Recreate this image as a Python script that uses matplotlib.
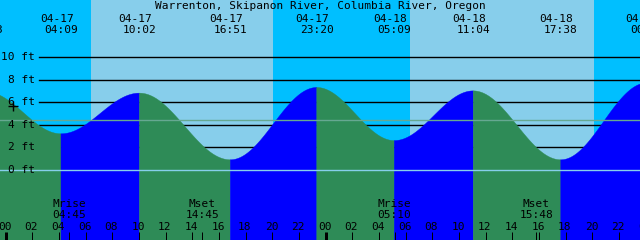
import numpy as np
import matplotlib.pyplot as plt
import matplotlib.transforms as mtransforms

plt.rcParams['font.family'] = ['DejaVu Sans Mono', 'DejaVu Sans']

title = 'Warrenton, Skipanon River, Columbia River, Oregon'

# tide highs and lows, hours counted from 04-17 00:00, heights in ft
tide_hours = [-1.45, 4.15, 10.033, 16.85, 23.333, 29.15, 35.067, 41.633, 48.083]
tide_heights = [6.9, 3.2, 6.8, 0.9, 7.3, 2.6, 7.0, 0.9, 7.7]
tide_dates = ['04-16', '04-17', '04-17', '04-17', '04-17', '04-18', '04-18', '04-18', '04-19']
tide_times = ['22:33', '04:09', '10:02', '16:51', '23:20', '05:09', '11:04', '17:38', '00:05']

# daylight
sunrise = [6.4, 30.33]
sunset = [20.05, 44.12]

# moon
moon_hours = [4.75, 14.75, 29.167, 39.8]
moon_names = ['Mrise', 'Mset', 'Mrise', 'Mset']
moon_times = ['04:45', '14:45', '05:10', '15:48']

grid_ft = [10, 8, 6, 4, 2]
label_ft = [10, 8, 6, 4, 2, 0]
mean_level = 4.4
now_hour, now_ft = 0.55, 5.66

hour_ticks = list(range(0, 49, 2))

W, H = 640, 240
px_h = 13.333   # pixels per hour
px_ft = 11.3    # pixels per foot
x0, y0 = 5.7, 170  # pixel position of 04-17 00:00 and 0 ft

fig = plt.figure(figsize=(6.4, 2.4), dpi=100)
ax = fig.add_axes([0, 0, 1, 1])
ax.set_xlim(-x0 / px_h, (W - x0) / px_h)
ax.set_ylim(-(H - y0) / px_ft, y0 / px_ft)
ax.axis('off')

# night / day background
ax.axvspan(-5, 60, color='#00BFFF', lw=0, zorder=0)
for a, b in zip(sunrise, sunset):
    ax.axvspan(a, b, color='#87CEEB', lw=0, zorder=0)

# grid lines behind the water
for f in grid_ft:
    ax.axhline(f, xmin=39 / W, xmax=1, color='black', lw=1, zorder=1)

# tide fill, cosine shape between extremes
for i in range(len(tide_hours) - 1):
    ha, hb = tide_hours[i], tide_hours[i + 1]
    va, vb = tide_heights[i], tide_heights[i + 1]
    t = np.linspace(0, 1, 80)
    hh = ha + t * (hb - ha)
    yy = va + (vb - va) * (1 - np.cos(np.pi * t)) / 2
    col = '#2E8B57' if vb < va else '#0000FF'
    ax.fill_between(hh, yy, -20, color=col, lw=0.3, ec=col, zorder=2)

ax.axhline(0, color='#87CEEB', lw=1, zorder=3)
ax.axhline(mean_level, color='#66a891', lw=1, zorder=3)
ax.plot(now_hour, now_ft, marker='+', ms=7, mew=1, color='black', zorder=4)

# y labels
for f in label_ft:
    ax.text(35 / W, f, f'{f} ft', transform=mtransforms.blended_transform_factory(ax.transAxes, ax.transData),
            ha='right', va='center', fontsize=8, zorder=5)

def fy(px):
    return 1 - px / H

trans = mtransforms.blended_transform_factory(ax.transData, fig.transFigure)
trans_date = mtransforms.offset_copy(trans, fig=fig, x=-4.4, y=0, units='dots')

fig.text(0.5, fy(9.3), title, ha='center', va='baseline', fontsize=8)

for h, d, tm in zip(tide_hours, tide_dates, tide_times):
    ax.text(h, fy(21.7), d, transform=trans_date, ha='center', va='baseline', fontsize=8, clip_on=False)
    ax.text(h, fy(33.3), tm, transform=trans, ha='center', va='baseline', fontsize=8, clip_on=False)

for h, n, tm in zip(moon_hours, moon_names, moon_times):
    ax.text(h, fy(206.7), n, transform=trans, ha='center', va='baseline', fontsize=8)
    ax.text(h, fy(218.3), tm, transform=trans, ha='center', va='baseline', fontsize=8)

# bottom ticks
tick_lo, tick_hi = fy(240), fy(231.5)
for h in hour_ticks:
    lw = 3 if h % 24 == 0 else 1
    ax.plot([h, h], [tick_lo, tick_hi], color='black', lw=lw * 0.72, transform=trans, zorder=5,
            solid_capstyle='butt')
    ax.text(h - 0.07, fy(230), f'{h % 24:02d}', transform=trans, ha='center', va='baseline', fontsize=8)
for h in moon_hours:
    ax.plot([h, h], [tick_lo, tick_hi], color='black', lw=0.72, transform=trans, zorder=5,
            solid_capstyle='butt')

fig.savefig('out.png', dpi=100)
